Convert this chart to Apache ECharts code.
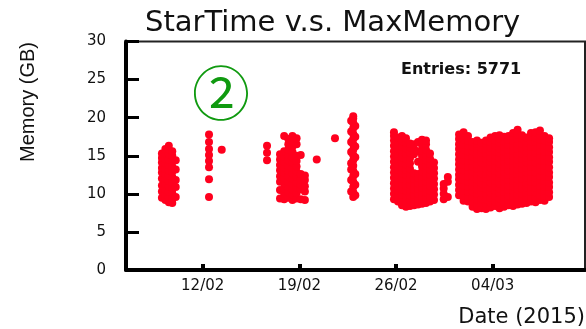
<!DOCTYPE html>
<html>
<head>
<meta charset="utf-8">
<script src="https://cdn.jsdelivr.net/npm/echarts@6/dist/echarts.min.js"></script>
<style>html,body{margin:0;padding:0;background:#fff;}#c{width:586px;height:329px;}</style>
</head>
<body>
<div id="c"></div>
<script>
// x value = day number counted from 1 Feb 2015 (12/02 -> 12)
const tickValues = [12, 19, 26, 33];
const tickLabels = ['12/02', '19/02', '26/02', '04/03'];
const yMin = 0, yMax = 30, yStep = 5;

// Each entry: [day, [memory values in GB]]
const groupA = [
  [9.05, [9.5, 10.3, 11.1, 12.0, 12.8, 13.4, 14.1, 14.7, 15.3]],
  [9.3, [9.2, 9.9, 10.6, 11.3, 12.0, 12.6, 13.3, 14.0, 14.6, 15.3, 15.9]],
  [9.55, [8.9, 9.6, 10.3, 11.0, 11.7, 12.4, 13.1, 13.8, 14.5, 15.2, 15.8, 16.3]],
  [9.8, [8.8, 9.4, 10.1, 10.8, 11.5, 12.2, 12.9, 13.6, 14.3, 15.0, 15.6]],
  [10.05, [9.6, 10.9, 11.8, 13.2, 14.4]]
];
const groupB = [
  [12.46, [9.6, 11.9, 13.5, 14.3, 15.1, 15.9, 16.8, 17.8]],
  [13.38, [15.8]],
  [16.66, [14.4, 15.4, 16.3]]
];
const groupC = [
  [17.6, [9.4, 10.5, 11.6, 12.3, 13.1, 13.8, 14.5, 15.2]],
  [17.9, [9.3, 10.0, 10.7, 11.4, 12.1, 12.8, 13.5, 14.2, 14.9, 15.6, 17.6]],
  [18.2, [9.5, 10.2, 10.9, 11.6, 12.3, 13.0, 13.7, 14.4, 15.1, 15.8, 16.5, 17.2]],
  [18.5, [9.2, 9.9, 10.6, 11.3, 12.0, 12.7, 13.4, 14.1, 14.8, 15.5, 16.2, 16.9, 17.6]],
  [18.8, [9.4, 10.1, 10.8, 11.5, 12.2, 12.9, 13.6, 14.3, 15.0, 16.5, 17.3]],
  [19.1, [9.3, 10.6, 11.2, 11.9, 12.6, 15.1]],
  [19.4, [9.2, 10.3, 11.0, 11.8, 12.4]],
  [20.26, [14.5]],
  [21.58, [17.3]]
];
const groupD = [
  [22.75, [10.3, 11.8, 13.2, 14.0, 15.5, 16.8, 18.2, 19.6]],
  [22.9, [9.6, 10.2, 10.9, 11.6, 12.3, 13.0, 13.7, 14.4, 15.1, 15.8, 16.5, 17.2, 17.9, 18.6, 19.3, 19.9, 20.2]],
  [23.05, [9.8, 11.2, 12.6, 14.8, 16.2, 17.5, 18.9]]
];
const groupE = [
  [25.85, [9.3, 10.0, 10.7, 11.4, 12.1, 12.8, 13.5, 14.2, 14.9, 15.6, 16.3, 17.0, 17.6, 18.1]],
  [26.14, [9.0, 9.7, 10.4, 11.1, 11.8, 12.5, 13.2, 13.9, 14.6, 15.3, 16.0, 16.7, 17.4]],
  [26.43, [8.5, 9.2, 9.9, 10.6, 11.3, 12.0, 12.7, 13.4, 14.1, 14.8, 15.5, 16.2, 16.9, 17.6]],
  [26.72, [8.3, 9.0, 9.7, 10.4, 11.1, 11.8, 12.5, 13.2, 13.9, 14.6, 15.3, 16.0, 16.7, 17.3]],
  [27.01, [8.4, 9.1, 9.8, 10.5, 11.2, 11.9, 12.6, 13.3, 14.0, 14.7, 15.4, 16.1, 16.6]],
  [27.30, [8.5, 9.2, 9.9, 10.6, 11.3, 12.0, 12.7, 15.2, 15.9, 16.5]],
  [27.59, [8.6, 9.3, 10.0, 10.7, 11.4, 12.1, 12.6, 14.2, 15.6, 16.8]],
  [27.88, [8.7, 9.4, 10.1, 10.8, 11.5, 12.2, 12.9, 13.6, 14.3, 15.0, 15.7, 16.4, 17.1]],
  [28.17, [8.8, 9.5, 10.2, 10.9, 11.6, 12.3, 13.0, 13.7, 14.4, 15.1, 15.8, 16.5, 17.0]],
  [28.46, [9.0, 9.7, 10.4, 11.1, 11.8, 12.5, 13.2, 13.9, 14.6, 15.3]],
  [28.75, [9.2, 9.9, 10.6, 11.3, 12.0, 12.7, 13.4, 14.1]],
  [29.45, [9.3, 10.0, 10.7, 11.3]],
  [29.75, [9.6, 11.6, 12.2]]
];
const groupF = [
  [30.56, [9.8, 10.5, 11.2, 11.9, 12.5, 13.2, 13.9, 14.5, 15.2, 15.9, 16.5, 17.2, 17.8]],
  [30.89, [9.1, 9.8, 10.4, 11.1, 11.8, 12.4, 13.1, 13.8, 14.4, 15.1, 15.8, 16.4, 17.1, 17.7, 18.1]],
  [31.21, [9.0, 9.6, 10.3, 11.0, 11.6, 12.3, 13.0, 13.6, 14.3, 15.0, 15.6, 16.3, 17.0, 17.6]],
  [31.54, [8.3, 9.0, 9.6, 10.3, 11.0, 11.6, 12.3, 12.9, 13.6, 14.3, 14.9, 15.6, 16.2, 16.8]],
  [31.86, [8.0, 8.6, 9.3, 10.0, 10.6, 11.3, 11.9, 12.6, 13.3, 13.9, 14.6, 15.2, 15.9, 16.6, 17.0]],
  [32.19, [8.1, 8.8, 9.4, 10.1, 10.8, 11.4, 12.1, 12.7, 13.4, 14.1, 14.7, 15.4, 16.0, 16.7]],
  [32.51, [8.0, 8.7, 9.3, 10.0, 10.7, 11.3, 12.0, 12.6, 13.3, 14.0, 14.6, 15.3, 15.9, 16.6, 17.0]],
  [32.84, [8.2, 8.9, 9.5, 10.2, 10.8, 11.5, 12.2, 12.8, 13.5, 14.2, 14.8, 15.5, 16.1, 16.8, 17.4]],
  [33.17, [8.4, 9.0, 9.7, 10.4, 11.0, 11.7, 12.3, 13.0, 13.7, 14.3, 15.0, 15.6, 16.3, 17.0, 17.6]],
  [33.49, [8.1, 8.8, 9.4, 10.1, 10.7, 11.4, 12.1, 12.7, 13.4, 14.0, 14.7, 15.4, 16.0, 16.7, 17.3, 17.7]],
  [33.82, [8.3, 9.0, 9.6, 10.3, 10.9, 11.6, 12.3, 12.9, 13.6, 14.2, 14.9, 15.6, 16.2, 16.9, 17.5]],
  [34.14, [8.5, 9.2, 9.8, 10.5, 11.1, 11.8, 12.5, 13.1, 13.8, 14.4, 15.1, 15.8, 16.4, 17.1, 17.6]],
  [34.47, [8.4, 9.1, 9.7, 10.4, 11.0, 11.7, 12.4, 13.0, 13.7, 14.3, 15.0, 15.7, 16.3, 17.0, 17.6, 18.0]],
  [34.80, [8.6, 9.3, 9.9, 10.6, 11.2, 11.9, 12.6, 13.2, 13.9, 14.5, 15.2, 15.9, 16.5, 17.2, 17.8, 18.4]],
  [35.12, [8.7, 9.4, 10.0, 10.7, 11.3, 12.0, 12.7, 13.3, 14.0, 14.6, 15.3, 16.0, 16.6, 17.3, 17.7]],
  [35.45, [8.8, 9.5, 10.1, 10.8, 11.4, 12.1, 12.8, 13.4, 14.1, 14.7, 15.4, 16.1, 16.7, 17.4]],
  [35.77, [9.0, 9.6, 10.3, 10.9, 11.6, 12.2, 12.9, 13.6, 14.2, 14.9, 15.5, 16.2, 16.9, 17.5, 18.0]],
  [36.10, [8.9, 9.5, 10.2, 10.8, 11.5, 12.1, 12.8, 13.5, 14.1, 14.8, 15.4, 16.1, 16.8, 17.4, 18.1]],
  [36.42, [9.2, 9.8, 10.5, 11.1, 11.8, 12.4, 13.1, 13.8, 14.4, 15.1, 15.7, 16.4, 17.1, 17.7, 18.3]],
  [36.75, [9.1, 9.7, 10.4, 11.0, 11.7, 12.3, 13.0, 13.7, 14.3, 15.0, 15.6, 16.3, 17.0, 17.6]],
  [37.08, [9.6, 10.2, 10.9, 11.5, 12.2, 12.8, 13.5, 14.2, 14.8, 15.5, 16.1, 16.8, 17.3]]
];

const groups = [groupA, groupB, groupC, groupD, groupE, groupF];
const points = [];
groups.forEach(g => g.forEach(([d, ys]) => ys.forEach(y => points.push([d, y]))));

const chart = echarts.init(document.getElementById('c'), null, {renderer: 'canvas'});
chart.setOption({
  animation: false,
  backgroundColor: '#fff',
  title: {
    text: 'StarTime v.s. MaxMemory',
    left: 140, top: 4,
    textStyle: {fontFamily: 'DejaVu Sans', fontSize: 29, fontWeight: 'normal', color: '#111'}
  },
  grid: {
    left: 126, right: 1, top: 41.5, bottom: 59,
    show: true, borderColor: '#222', borderWidth: 2, backgroundColor: 'transparent'
  },
  xAxis: {
    type: 'value', min: 6.45, max: 39.68,
    splitLine: {show: false},
    axisLine: {onZero: false, lineStyle: {color: '#000', width: 4}},
    axisTick: {inside: true, length: 6, customValues: tickValues, lineStyle: {color: '#000', width: 4}},
    axisLabel: {
      customValues: tickValues, margin: 9,
      fontFamily: 'DejaVu Sans', fontSize: 15, color: '#111',
      formatter: v => tickLabels[tickValues.indexOf(v)]
    }
  },
  yAxis: {
    type: 'value', min: yMin, max: yMax, interval: yStep,
    splitLine: {show: false},
    axisLine: {lineStyle: {color: '#000', width: 4}},
    axisTick: {inside: true, length: 13, lineStyle: {color: '#000', width: 3}},
    axisLabel: {margin: 20, fontFamily: 'DejaVu Sans', fontSize: 15, color: '#111'}
  },
  graphic: [
    {type: 'text', x: 28, y: 102, rotation: Math.PI / 2,
     style: {text: 'Memory (GB)', fill: '#111', font: '20px "Liberation Sans"', align: 'center', verticalAlign: 'middle', textAlign: 'center', textVerticalAlign: 'middle'}},
    {type: 'text', x: 585, y: 318,
     style: {text: 'Date (2015)', fill: '#111', font: '21px "DejaVu Sans"', align: 'right', verticalAlign: 'middle', textAlign: 'right', textVerticalAlign: 'middle'}},
    {type: 'text', x: 401, y: 70,
     style: {text: 'Entries: 5771', fill: '#111', font: 'bold 16px "DejaVu Sans"', align: 'left', verticalAlign: 'middle', textAlign: 'left', textVerticalAlign: 'middle'}},
    {type: 'text', x: 221, y: 93,
     style: {text: '②', fill: '#109a10', font: '58px "Noto Sans CJK SC"', align: 'center', verticalAlign: 'middle', textAlign: 'center', textVerticalAlign: 'middle'}}
  ],
  series: [{
    type: 'scatter',
    data: points,
    symbol: 'circle',
    symbolSize: 8,
    itemStyle: {color: '#ff001e', opacity: 1},
    silent: true
  }]
});
</script>
</body>
</html>
